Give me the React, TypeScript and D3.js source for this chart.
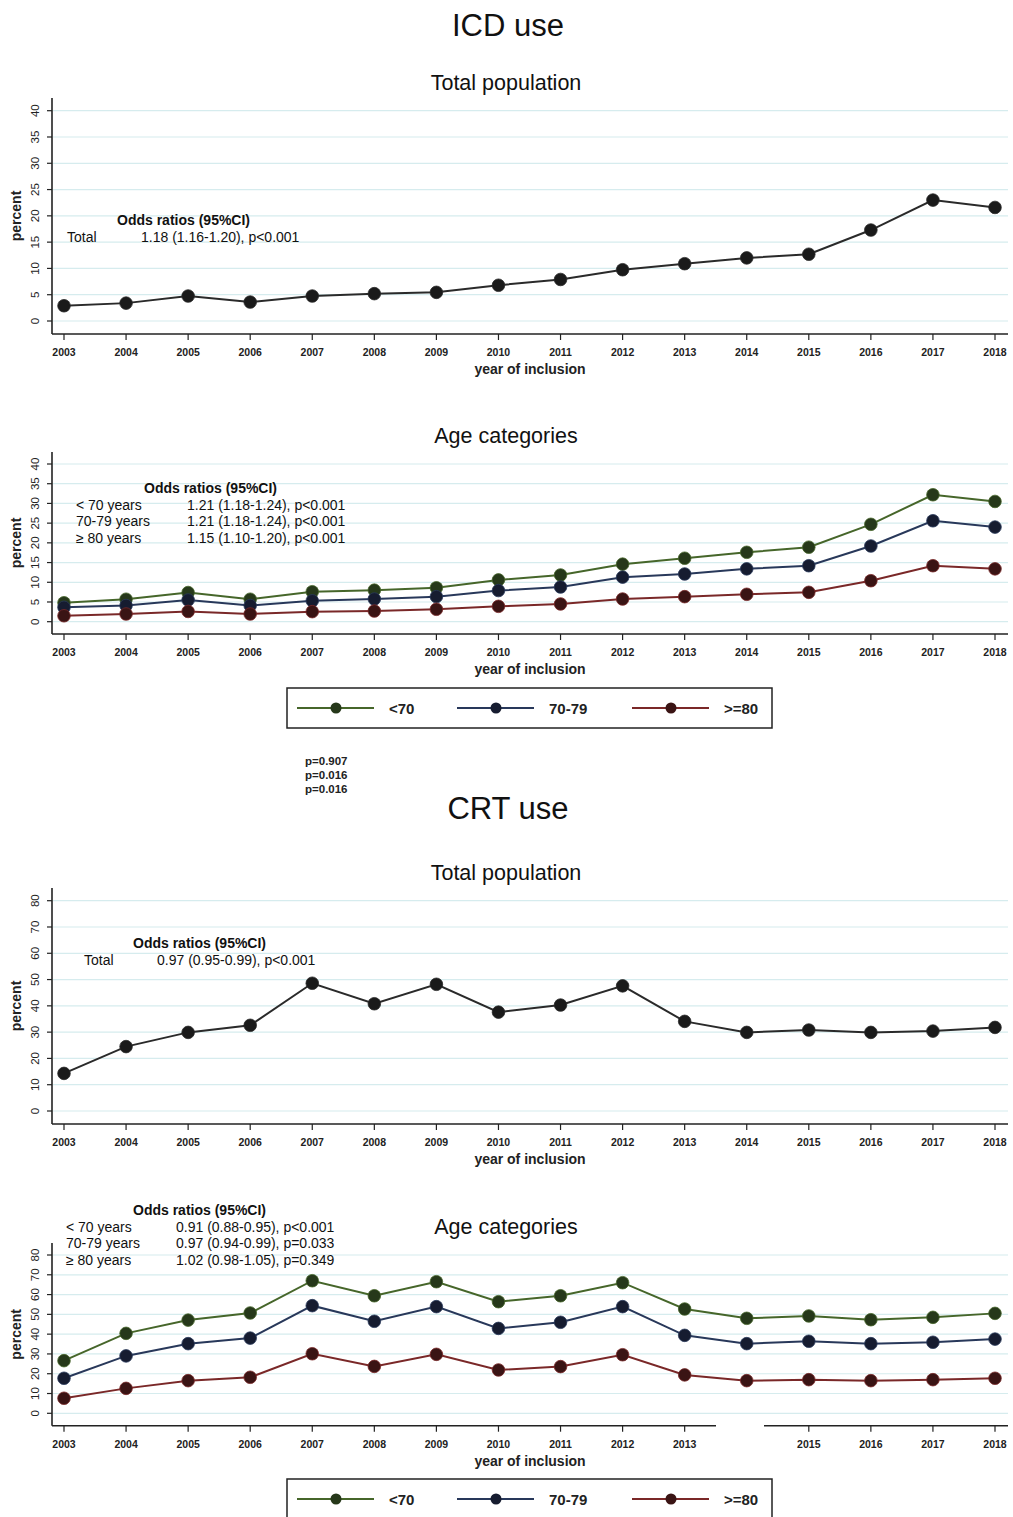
import React from "react";
import * as d3 from "d3";

const years = [2003, 2004, 2005, 2006, 2007, 2008, 2009, 2010, 2011, 2012, 2013, 2014, 2015, 2016, 2017, 2018];

const icdTotal = [2.9, 3.4, 4.75, 3.6, 4.75, 5.2, 5.45, 6.8, 7.9, 9.75, 10.9, 12.0, 12.7, 17.3, 23.0, 21.6];
const icdUnder70 = [4.8, 5.7, 7.4, 5.7, 7.6, 8.0, 8.6, 10.6, 11.85, 14.6, 16.1, 17.6, 18.9, 24.7, 32.2, 30.5];
const icd70to79 = [3.65, 4.1, 5.5, 4.1, 5.3, 5.75, 6.35, 7.9, 8.8, 11.3, 12.1, 13.4, 14.2, 19.2, 25.6, 24.0];
const icdOver80 = [1.5, 1.95, 2.6, 1.95, 2.55, 2.7, 3.15, 3.9, 4.5, 5.75, 6.35, 6.95, 7.45, 10.4, 14.2, 13.4];

const crtTotal = [14.3, 24.5, 29.9, 32.6, 48.6, 40.8, 48.2, 37.6, 40.3, 47.6, 34.1, 29.9, 30.8, 29.9, 30.4, 31.8];
const crtUnder70 = [26.6, 40.4, 47.1, 50.7, 67.0, 59.4, 66.5, 56.4, 59.4, 66.0, 52.7, 48.0, 49.2, 47.3, 48.5, 50.5];
const crt70to79 = [17.7, 29.0, 35.2, 38.0, 54.4, 46.5, 53.9, 42.9, 46.0, 53.9, 39.4, 35.2, 36.4, 35.2, 35.9, 37.5];
const crtOver80 = [7.6, 12.6, 16.5, 18.2, 30.1, 23.7, 29.8, 21.9, 23.6, 29.6, 19.4, 16.5, 17.0, 16.5, 17.0, 17.7];

const icdTicks = [0, 5, 10, 15, 20, 25, 30, 35, 40];
const crtTicks = [0, 10, 20, 30, 40, 50, 60, 70, 80];

const legendLabels = ["<70", "70-79", ">=80"];
const pValues = ["p=0.907", "p=0.016", "p=0.016"];

const icdTotalOR = ["Total", "1.18 (1.16-1.20), p<0.001"];
const icdAgeOR = [
  ["< 70 years", "1.21 (1.18-1.24), p<0.001"],
  ["70-79 years", "1.21 (1.18-1.24), p<0.001"],
  ["\u2265 80 years", "1.15 (1.10-1.20), p<0.001"],
];
const crtTotalOR = ["Total", "0.97 (0.95-0.99), p<0.001"];
const crtAgeOR = [
  ["< 70 years", "0.91 (0.88-0.95), p<0.001"],
  ["70-79 years", "0.97 (0.94-0.99), p=0.033"],
  ["\u2265 80 years", "1.02 (0.98-1.05), p=0.349"],
];

const FONT = "'Liberation Sans', Arial, Helvetica, sans-serif";
const GRID = "#d6ecee";
const AXIS = "#222";

const lineColors = ["#46662a", "#28385a", "#7a2828"];
const markerColors = ["#26381a", "#161c30", "#3a1414"];

type Series = { values: number[]; line: string; marker: string };

function Panel(props: {
  top: number;
  y0: number;
  yMaxPx: number;
  max: number;
  ticks: number[];
  axisY: number;
  series: Series[];
  radius: number;
  skipYear?: number;
  gap?: [number, number];
}) {
  const { top, y0, yMaxPx, max, ticks, axisY, series, radius, skipYear, gap } = props;
  const x = d3.scaleLinear().domain([2003, 2018]).range([64, 995]);
  const y = d3.scaleLinear().domain([0, max]).range([y0, yMaxPx]);
  const line = d3
    .line<number>()
    .x((_, i) => x(years[i]))
    .y((d) => y(d));
  const axisLeft = 52;
  const axisRight = 1008;
  const midY = (top + axisY) / 2;
  return (
    <g>
      {ticks.map((t) => (
        <line key={"g" + t} x1={axisLeft + 1} x2={axisRight} y1={y(t)} y2={y(t)} stroke={GRID} strokeWidth={1.2} />
      ))}
      <line x1={axisLeft} x2={axisLeft} y1={top} y2={axisY} stroke={AXIS} strokeWidth={1.6} />
      {gap ? (
        <g>
          <line x1={axisLeft} x2={gap[0]} y1={axisY} y2={axisY} stroke={AXIS} strokeWidth={1.6} />
          <line x1={gap[1]} x2={axisRight} y1={axisY} y2={axisY} stroke={AXIS} strokeWidth={1.6} />
        </g>
      ) : (
        <line x1={axisLeft} x2={axisRight} y1={axisY} y2={axisY} stroke={AXIS} strokeWidth={1.6} />
      )}
      {ticks.map((t) => (
        <g key={"t" + t}>
          <line x1={axisLeft - 5} x2={axisLeft} y1={y(t)} y2={y(t)} stroke={AXIS} strokeWidth={1.2} />
          <text
            transform={`translate(${axisLeft - 13},${y(t)}) rotate(-90)`}
            textAnchor="middle"
            fontFamily={FONT}
            fontSize={11.5}
            fill="#222"
          >
            {t}
          </text>
        </g>
      ))}
      {years
        .filter((yr) => yr !== skipYear)
        .map((yr) => (
          <g key={"x" + yr}>
            <line x1={x(yr)} x2={x(yr)} y1={axisY} y2={axisY + 6} stroke={AXIS} strokeWidth={1.2} />
            <text x={x(yr)} y={axisY + 22} textAnchor="middle" fontFamily={FONT} fontSize={10.5} fontWeight="bold" fill="#222">
              {yr}
            </text>
          </g>
        ))}
      <text
        transform={`translate(21,${midY}) rotate(-90)`}
        textAnchor="middle"
        fontFamily={FONT}
        fontSize={14}
        fontWeight="bold"
        fill="#222"
      >
        percent
      </text>
      <text x={530} y={axisY + 40} textAnchor="middle" fontFamily={FONT} fontSize={14} fontWeight="bold" fill="#222">
        year of inclusion
      </text>
      {series.map((s, si) => (
        <g key={"s" + si}>
          <path d={line(s.values) || ""} fill="none" stroke={s.line} strokeWidth={2} />
          {s.values.map((v, i) => (
            <circle key={i} cx={x(years[i])} cy={y(v)} r={radius} fill={s.marker} stroke={s.line} strokeWidth={0.8} />
          ))}
        </g>
      ))}
    </g>
  );
}

function Legend({ top }: { top: number }) {
  const items = [
    { x: 297, tx: 389 },
    { x: 457, tx: 549 },
    { x: 632, tx: 724 },
  ];
  return (
    <g>
      <rect x={287} y={top} width={485} height={40} fill="white" stroke="#222" strokeWidth={1.5} />
      {items.map((it, i) => (
        <g key={i}>
          <line x1={it.x} x2={it.x + 77} y1={top + 20} y2={top + 20} stroke={lineColors[i]} strokeWidth={2} />
          <circle cx={it.x + 39} cy={top + 20} r={5.5} fill={markerColors[i]} />
          <text x={it.tx} y={top + 26} fontFamily={FONT} fontSize={15} fontWeight="bold" fill="#222">
            {legendLabels[i]}
          </text>
        </g>
      ))}
    </g>
  );
}

function ORBlock(props: { hx: number; hy: number; lx: number; vx: number; rows: string[][]; dy: number }) {
  const { hx, hy, lx, vx, rows, dy } = props;
  return (
    <g fontFamily={FONT} fontSize={14} fill="#111">
      <text x={hx} y={hy} fontWeight="bold">
        Odds ratios (95%CI)
      </text>
      {rows.map((r, i) => (
        <g key={i}>
          <text x={lx} y={hy + dy * (i + 1)}>{r[0]}</text>
          <text x={vx} y={hy + dy * (i + 1)}>{r[1]}</text>
        </g>
      ))}
    </g>
  );
}

export default function App() {
  const ageSeries = (a: number[], b: number[], c: number[]): Series[] => [
    { values: a, line: lineColors[0], marker: markerColors[0] },
    { values: b, line: lineColors[1], marker: markerColors[1] },
    { values: c, line: lineColors[2], marker: markerColors[2] },
  ];
  return (
    <svg width={1013} height={1517} style={{ position: "absolute", left: 0, top: 0, background: "white" }}>
      <rect width={1013} height={1517} fill="white" />
      <text x={508} y={36} textAnchor="middle" fontFamily={FONT} fontSize={31} fill="#111">ICD use</text>
      <text x={506} y={90} textAnchor="middle" fontFamily={FONT} fontSize={21.5} fill="#111">Total population</text>
      <Panel top={98} y0={321} yMaxPx={110.7} max={40} ticks={icdTicks} axisY={334} radius={6.3}
        series={[{ values: icdTotal, line: "#2a2a2a", marker: "#1a1a1a" }]} />
      <ORBlock hx={117} hy={225} lx={67} vx={141} rows={[icdTotalOR]} dy={17} />

      <text x={506} y={443} textAnchor="middle" fontFamily={FONT} fontSize={21.5} fill="#111">Age categories</text>
      <Panel top={452} y0={621.7} yMaxPx={464} max={40} ticks={icdTicks} axisY={634} radius={6.3}
        series={ageSeries(icdUnder70, icd70to79, icdOver80)} />
      <ORBlock hx={144} hy={493} lx={76} vx={187} rows={icdAgeOR} dy={16.5} />

      <Legend top={688} />
      <g fontFamily={FONT} fontSize={11.5} fontWeight="bold" fill="#222">
        {pValues.map((p, i) => (
          <text key={i} x={305} y={765 + i * 14}>{p}</text>
        ))}
      </g>

      <text x={508} y={819} textAnchor="middle" fontFamily={FONT} fontSize={31} fill="#111">CRT use</text>
      <text x={506} y={880} textAnchor="middle" fontFamily={FONT} fontSize={21.5} fill="#111">Total population</text>
      <Panel top={888} y0={1111} yMaxPx={900.7} max={80} ticks={crtTicks} axisY={1124} radius={6.3}
        series={[{ values: crtTotal, line: "#2a2a2a", marker: "#1a1a1a" }]} />
      <ORBlock hx={133} hy={948} lx={84} vx={157} rows={[crtTotalOR]} dy={17} />

      <text x={506} y={1234} textAnchor="middle" fontFamily={FONT} fontSize={21.5} fill="#111">Age categories</text>
      <Panel top={1243} y0={1413.3} yMaxPx={1255} max={80} ticks={crtTicks} axisY={1425.7} radius={6.3}
        series={ageSeries(crtUnder70, crt70to79, crtOver80)} skipYear={2014} gap={[716, 764]} />
      <ORBlock hx={133} hy={1215} lx={66} vx={176} rows={crtAgeOR} dy={16.6} />

      <Legend top={1479} />
    </svg>
  );
}
